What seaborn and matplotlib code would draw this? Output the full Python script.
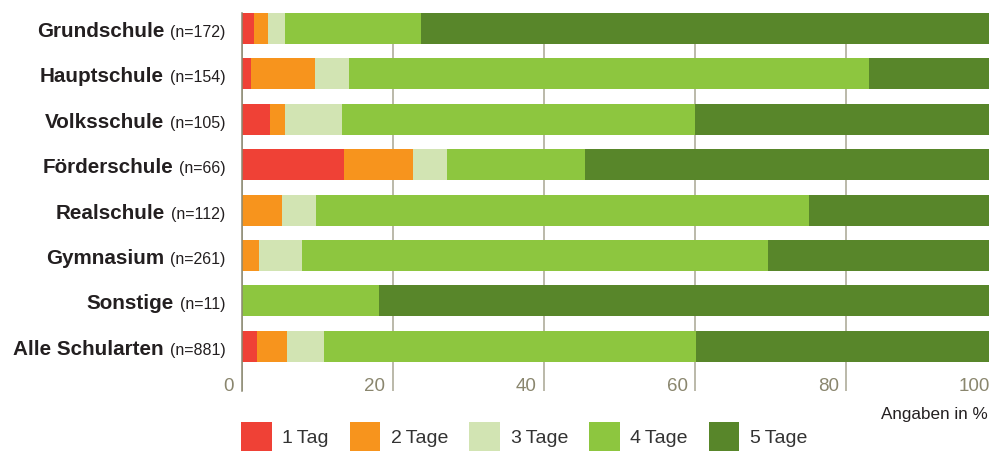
import numpy as np
import matplotlib.pyplot as plt
import matplotlib.transforms as mtransforms
from matplotlib.patches import Patch
import seaborn as sns

# Data (percent per school type)
schools = ['Grundschule', 'Hauptschule', 'Volksschule', 'Förderschule',
           'Realschule', 'Gymnasium', 'Sonstige', 'Alle Schularten']
n_counts = [172, 154, 105, 66, 112, 261, 11, 881]
segments = ['1\u2009Tag', '2\u2009Tage', '3\u2009Tage', '4\u2009Tage', '5\u2009Tage']

tag1 = [1.7, 1.3, 3.8, 13.6, 0.0, 0.0, 0.0, 2.0]
tag2 = [1.8, 8.4, 1.9, 9.1, 5.4, 2.3, 0.0, 4.0]
tag3 = [2.3, 4.5, 7.6, 4.5, 4.4, 5.7, 0.0, 4.9]
tag4 = [18.0, 68.8, 46.7, 18.2, 65.2, 61.7, 18.2, 49.2]
tag5 = [76.2, 17.0, 40.0, 54.6, 25.0, 30.3, 81.8, 39.9]

x_ticks = [0, 20, 40, 60, 80, 100]

colors = ['#EF4136', '#F7941D', '#D2E4B3', '#8DC63F', '#58862A']
tick_color = '#8A866E'
grid_color = '#A8A692'
text_color = '#231F20'

sns.set_style('white')
plt.rcParams['font.family'] = ['Liberation Sans', 'DejaVu Sans']

fig = plt.figure(figsize=(9.89, 4.51), dpi=100)
ax = fig.add_axes([241.5 / 989, 60 / 451, 756 / 989, 378 / 451])

# stacked bars: draw cumulative totals from the longest to the shortest
cum = np.cumsum(np.array([tag1, tag2, tag3, tag4, tag5]), axis=0)
for k in reversed(range(len(segments))):
    sns.barplot(x=cum[k], y=schools, orient='h', color=colors[k],
                saturation=1, width=0.683, linewidth=0, errorbar=None,
                ax=ax, zorder=2)

ax.set_xlim(0, 100)
ax.set_ylim(7.985, -0.341)
ax.set_xlabel('')
ax.set_ylabel('')

# vertical grid + left axis line
ax.set_axisbelow(True)
ax.set_xticks(x_ticks)
ax.set_xticklabels([str(t) for t in x_ticks])
ax.grid(axis='x', color=grid_color, linewidth=1.1, zorder=0)
ax.grid(axis='y', visible=False)
for side in ['top', 'right', 'bottom']:
    ax.spines[side].set_visible(False)
ax.spines['left'].set_color('#8A8870')
ax.spines['left'].set_linewidth(1.1)
ax.spines['left'].set_zorder(3)

ax.tick_params(axis='x', length=0, pad=0, labelsize=13.5, labelcolor=tick_color)
ax.tick_params(axis='y', length=0, labelleft=False)
shift = mtransforms.ScaledTranslation(-7.5 / 100, 0, fig.dpi_scale_trans)
for lab in ax.get_xticklabels():
    lab.set_horizontalalignment('right')
    lab.set_verticalalignment('baseline')
    lab.set_transform(lab.get_transform() + shift)

# category labels: bold name + small (n=...)
fig.canvas.draw()
renderer = fig.canvas.get_renderer()
for i, (name, n) in enumerate(zip(schools, n_counts)):
    t = ax.annotate(f'(n={n})', xy=(0, i), xycoords=('axes fraction', 'data'),
                    xytext=(-16, -8.5), textcoords='offset pixels',
                    ha='right', va='baseline', fontsize=11.5, color=text_color)
    w = t.get_window_extent(renderer).width
    ax.annotate(name, xy=(0, i), xycoords=('axes fraction', 'data'),
                xytext=(-16 - w - 6, -8.5), textcoords='offset pixels',
                ha='right', va='baseline', fontsize=14.9, fontweight='bold',
                color=text_color)

fig.text(988 / 989, 1 - 414 / 451, 'Angaben in %', ha='right', va='center',
         fontsize=12.3, color=text_color)

handles = [Patch(facecolor=c, edgecolor='none', label=s)
           for c, s in zip(colors, segments)]
fig.legend(handles=handles, loc='upper left',
           bbox_to_anchor=(241 / 989, 1 - 421.7 / 451),
           bbox_transform=fig.transFigure, ncol=5, frameon=False,
           fontsize=14, handlelength=1.58, handleheight=2.0,
           handletextpad=0.54, columnspacing=1.08, borderpad=0,
           borderaxespad=0, labelcolor='#333333')

fig.savefig('out.png', dpi=100)
